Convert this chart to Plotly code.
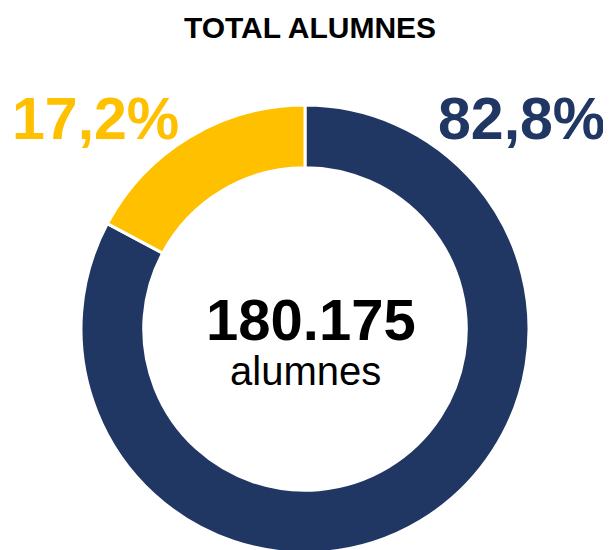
import plotly.graph_objects as go

# Data
labels = ["Grup A", "Grup B"]
values = [82.8, 17.2]
colors = ["#213763", "#FFC000"]
pct_text = ["82,8%", "17,2%"]
total_text = "180.175"
total_unit = "alumnes"
title_text = "TOTAL ALUMNES"

W, H = 611, 550
OFF = 8                      # page body margin in the browser
L, T, SIZE = 81 - OFF, 105 - OFF, 448   # plot area in pixels


def px_x(px):
    return (px - OFF - L) / SIZE


def px_y(py):
    return 1 - (py - OFF - T) / SIZE


FONT = "Arial, Liberation Sans, sans-serif"

fig = go.Figure(go.Pie(
    labels=labels,
    values=values,
    hole=0.72,
    sort=False,
    direction="clockwise",
    rotation=0,
    textinfo="none",
    hoverinfo="label+percent",
    marker=dict(colors=colors, line=dict(color="white", width=3)),
    domain=dict(x=[0, 1], y=[0, 1]),
))


def label(text, x, y, size, color):
    return dict(text=text, x=px_x(x), y=px_y(y), xref="paper", yref="paper",
                xanchor="center", yanchor="middle", showarrow=False,
                font=dict(family=FONT, size=size, color=color))


fig.update_layout(
    width=W,
    height=H,
    margin=dict(l=L, r=W - L - SIZE, t=T, b=H - T - SIZE),
    paper_bgcolor="white",
    plot_bgcolor="white",
    showlegend=False,
    title=dict(
        text="<b>" + title_text + "</b>",
        x=(310 - OFF) / W, xref="container", xanchor="center",
        y=1 - (27 - OFF) / H, yref="container", yanchor="middle",
        font=dict(family=FONT, size=30, color="black"),
    ),
    annotations=[
        label("<b>" + pct_text[1] + "</b>", 95, 119, 59, colors[1]),
        label("<b>" + pct_text[0] + "</b>", 521, 119, 59, colors[0]),
        label("<b>" + total_text + "</b>", 311, 319, 58, "black"),
        label(total_unit, 305, 371, 40, "black"),
    ],
)

fig.write_html("out.html")
